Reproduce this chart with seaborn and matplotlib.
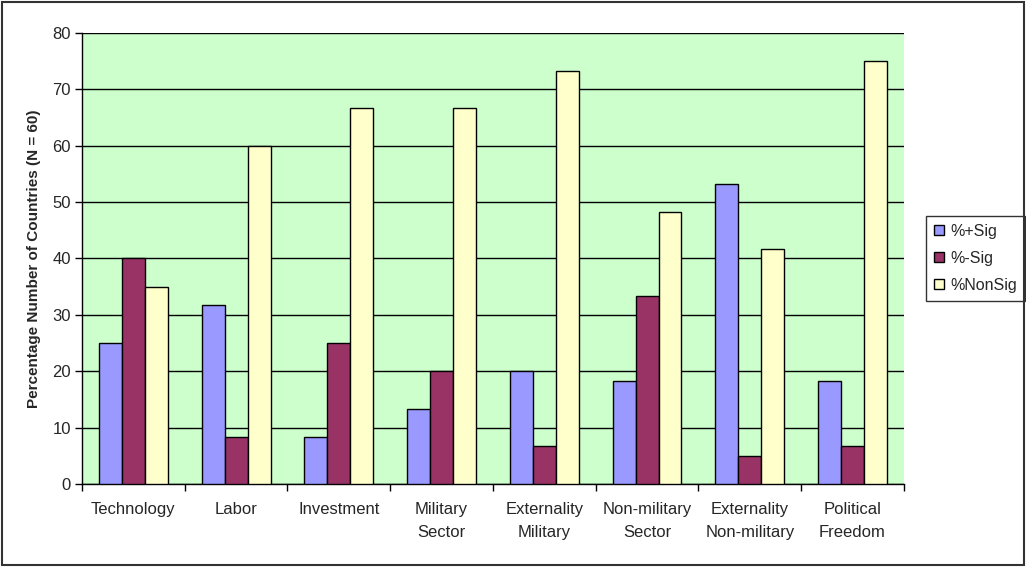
import pandas as pd
import matplotlib
matplotlib.use("Agg")
import matplotlib.pyplot as plt
import seaborn as sns
from matplotlib.patches import Rectangle

categories = ["Technology", "Labor", "Investment", "Military\nSector",
              "Externality\nMilitary", "Non-military\nSector",
              "Externality\nNon-military", "Political\nFreedom"]
pos_sig = [25, 31.7, 8.3, 13.3, 20, 18.3, 53.3, 18.3]
neg_sig = [40, 8.3, 25, 20, 6.7, 33.3, 5, 6.7]
non_sig = [35, 60, 66.7, 66.7, 73.3, 48.3, 41.7, 75]
series = ["%+Sig", "%-Sig", "%NonSig"]
colors = ["#9999FF", "#993366", "#FFFFCC"]

rows = []
for s, vals in zip(series, [pos_sig, neg_sig, non_sig]):
    for c, v in zip(categories, vals):
        rows.append({"category": c, "series": s, "value": v})
df = pd.DataFrame(rows)

sns.set_style("white")
plt.rcParams["font.family"] = ["Liberation Sans", "DejaVu Sans"]

fig = plt.figure(figsize=(10.26, 5.67), dpi=100)
ax = fig.add_axes([0.0799, 0.1464, 0.8011, 0.7954])
ax.set_facecolor("#CCFFCC")

sns.barplot(data=df, x="category", y="value", hue="series", order=categories,
            hue_order=series, palette=colors, width=0.67, edgecolor="black",
            linewidth=1, saturation=1, ax=ax, zorder=3)

ax.set_ylim(0, 80)
ax.set_xlim(-0.5, len(categories) - 0.5)
ax.set_yticks(range(0, 81, 10))
ax.yaxis.grid(True, color="black", linewidth=1, zorder=1)
ax.set_axisbelow(True)
ax.set_xticks([i - 0.5 for i in range(len(categories) + 1)], minor=False)
ax.set_xticklabels([])
ax.set_xticks(range(len(categories)), minor=True)
ax.set_xticklabels(categories, minor=True, fontsize=12, linespacing=1.65)
ax.tick_params(axis="x", which="minor", length=0, pad=13)
ax.tick_params(axis="x", which="major", length=5, width=1, color="black", direction="out")
ax.tick_params(axis="y", length=5, width=1, color="black", direction="out", labelsize=12, pad=3)
ax.tick_params(left=True, bottom=True)

for side in ["top", "right"]:
    ax.spines[side].set_visible(False)
for side in ["left", "bottom"]:
    ax.spines[side].set_color("black")
    ax.spines[side].set_linewidth(1)

ax.set_xlabel("")
ax.set_ylabel("Percentage Number of Countries (N = 60)", fontsize=11,
              fontweight="bold", labelpad=8)

leg = ax.legend(loc="center left", bbox_to_anchor=(1.027, 0.5), frameon=True,
                fancybox=False, edgecolor="black", fontsize=11.5,
                handlelength=0.6, handleheight=0.6, handletextpad=0.4,
                labelspacing=0.75, borderpad=0.5, borderaxespad=0)
leg.get_frame().set_linewidth(1)

fig.patches.append(Rectangle((0.002, 0.004), 0.996, 0.992, transform=fig.transFigure,
                             fill=False, edgecolor="#333333", linewidth=1.5))

fig.savefig("out.png", dpi=100, facecolor="white")
